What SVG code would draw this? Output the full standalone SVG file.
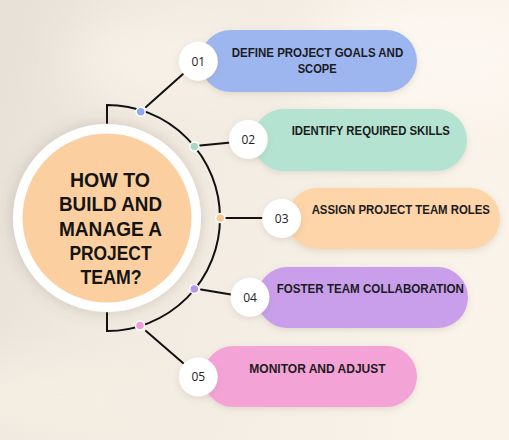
<svg xmlns="http://www.w3.org/2000/svg" width="509" height="440" viewBox="0 0 509 440">
  <defs>
    <linearGradient id="bg" x1="0" y1="0" x2="1" y2="0.2">
      <stop offset="0" stop-color="#E6E0D7"/>
      <stop offset="0.35" stop-color="#F1EAE0"/>
      <stop offset="1" stop-color="#FAF3EA"/>
    </linearGradient>
    <filter id="blur" x="-50%" y="-50%" width="200%" height="200%">
      <feGaussianBlur stdDeviation="25"/>
    </filter>
    <filter id="sh" x="-20%" y="-30%" width="140%" height="160%">
      <feDropShadow dx="0" dy="2" stdDeviation="3" flood-color="#7a6a55" flood-opacity="0.18"/>
    </filter>
    <filter id="ringsh" x="-30%" y="-30%" width="160%" height="160%">
      <feDropShadow dx="0" dy="0" stdDeviation="8" flood-color="#6b5b45" flood-opacity="0.25"/>
    </filter>
  </defs>
  <style>
    .conn { stroke: #111; stroke-width: 2; fill: none; stroke-linecap: round; }
    .pill { filter: url(#sh); }
    .num-c { fill: #ffffff; filter: url(#sh); }
    .num { font-family: "Open Sans", "DejaVu Sans", sans-serif; font-size: 12px; fill: #222; text-anchor: middle; }
    .lbl { font-family: "Liberation Sans", Arial, sans-serif; font-weight: bold; font-size: 13.5px; fill: #1b1b22; text-anchor: middle; }
    .title { font-family: "Liberation Sans", Arial, sans-serif; font-weight: bold; font-size: 21px; fill: #141414; text-anchor: middle; }
    .dot { stroke: #ffffff; stroke-width: 1.5; }
  </style>

  <!-- background -->
  <rect x="0" y="0" width="509" height="440" fill="url(#bg)"/>
  <ellipse cx="430" cy="60" rx="120" ry="60" fill="#FCF7F0" filter="url(#blur)"/>
  <ellipse cx="160" cy="60" rx="90" ry="40" fill="#F8F1E7" filter="url(#blur)"/>
  <ellipse cx="60" cy="400" rx="120" ry="40" fill="#F5EEE3" filter="url(#blur)"/>

  <!-- connectors -->
  <g id="connectors">
    <path class="conn" d="M107,123 L107,105 A113,113 0 0 1 107,331 L107,313"/>
    <line class="conn" x1="146" y1="107" x2="183" y2="74"/>
    <line class="conn" x1="200" y1="145.5" x2="231" y2="142.5"/>
    <line class="conn" x1="226" y1="218" x2="263" y2="218"/>
    <line class="conn" x1="201" y1="289.5" x2="231" y2="294.5"/>
    <line class="conn" x1="146" y1="331" x2="183" y2="363"/>
  </g>

  <!-- central node -->
  <g id="center">
    <circle cx="107" cy="218" r="94" fill="#ffffff" filter="url(#ringsh)"/>
    <circle cx="107" cy="218" r="84.5" fill="#FCCFA0"/>
    <text class="title" x="110" y="187" textLength="80" lengthAdjust="spacingAndGlyphs">HOW TO</text>
    <text class="title" x="110.5" y="211.2" textLength="103" lengthAdjust="spacingAndGlyphs">BUILD AND</text>
    <text class="title" x="110.5" y="235.6" textLength="103" lengthAdjust="spacingAndGlyphs">MANAGE A</text>
    <text class="title" x="110.5" y="259.6" textLength="82" lengthAdjust="spacingAndGlyphs">PROJECT</text>
    <text class="title" x="111" y="283.5" textLength="61" lengthAdjust="spacingAndGlyphs">TEAM?</text>
  </g>

  <!-- dots on arc -->
  <g id="dots">
    <circle class="dot" cx="140.7" cy="111.7" r="4.5" fill="#90A8EC"/>
    <circle class="dot" cx="194.3" cy="146.5" r="4.5" fill="#A3D9C6"/>
    <circle class="dot" cx="220.3" cy="218" r="4.5" fill="#F6C894"/>
    <circle class="dot" cx="194.3" cy="289" r="4.5" fill="#BC96E6"/>
    <circle class="dot" cx="140" cy="325.5" r="4.5" fill="#EC9FD2"/>
  </g>

  <g id="step1">
    <rect class="pill" x="200" y="30" width="217" height="62" rx="31" fill="#9EB6F0"/>
    <circle class="num-c" cx="198.3" cy="61.3" r="19.5"/>
    <text class="num" x="198.3" y="65.5">01</text>
    <text class="lbl" x="317.5" y="56.7" textLength="171.5" lengthAdjust="spacingAndGlyphs">DEFINE PROJECT GOALS AND</text>
    <text class="lbl" x="317.2" y="73.3" textLength="39" lengthAdjust="spacingAndGlyphs">SCOPE</text>
  </g>

  <g id="step2">
    <rect class="pill" x="253" y="109" width="214" height="62" rx="31" fill="#B4E4D1"/>
    <circle class="num-c" cx="248.3" cy="139.5" r="19.5"/>
    <text class="num" x="248.3" y="143.7">02</text>
    <text class="lbl" x="370.8" y="135" textLength="158.3" lengthAdjust="spacingAndGlyphs">IDENTIFY REQUIRED SKILLS</text>
  </g>

  <g id="step3">
    <rect class="pill" x="287" y="188" width="213" height="61" rx="30.5" fill="#FDD5A8"/>
    <circle class="num-c" cx="281.7" cy="218.5" r="19.5"/>
    <text class="num" x="281.7" y="222.7">03</text>
    <text class="lbl" x="400.8" y="214.3" textLength="178.3" lengthAdjust="spacingAndGlyphs">ASSIGN PROJECT TEAM ROLES</text>
  </g>

  <g id="step4">
    <rect class="pill" x="257" y="267" width="211" height="61" rx="30.5" fill="#C99FEC"/>
    <circle class="num-c" cx="250" cy="297.3" r="19.5"/>
    <text class="num" x="250" y="301.5">04</text>
    <text class="lbl" x="370.3" y="293.3" textLength="187.3" lengthAdjust="spacingAndGlyphs">FOSTER TEAM COLLABORATION</text>
  </g>

  <g id="step5">
    <rect class="pill" x="203" y="346" width="214" height="61" rx="30.5" fill="#F4A3D7"/>
    <circle class="num-c" cx="198.3" cy="377" r="19.5"/>
    <text class="num" x="198.3" y="381.2">05</text>
    <text class="lbl" x="317.5" y="372.7" textLength="136.3" lengthAdjust="spacingAndGlyphs">MONITOR AND ADJUST</text>
  </g>
</svg>
